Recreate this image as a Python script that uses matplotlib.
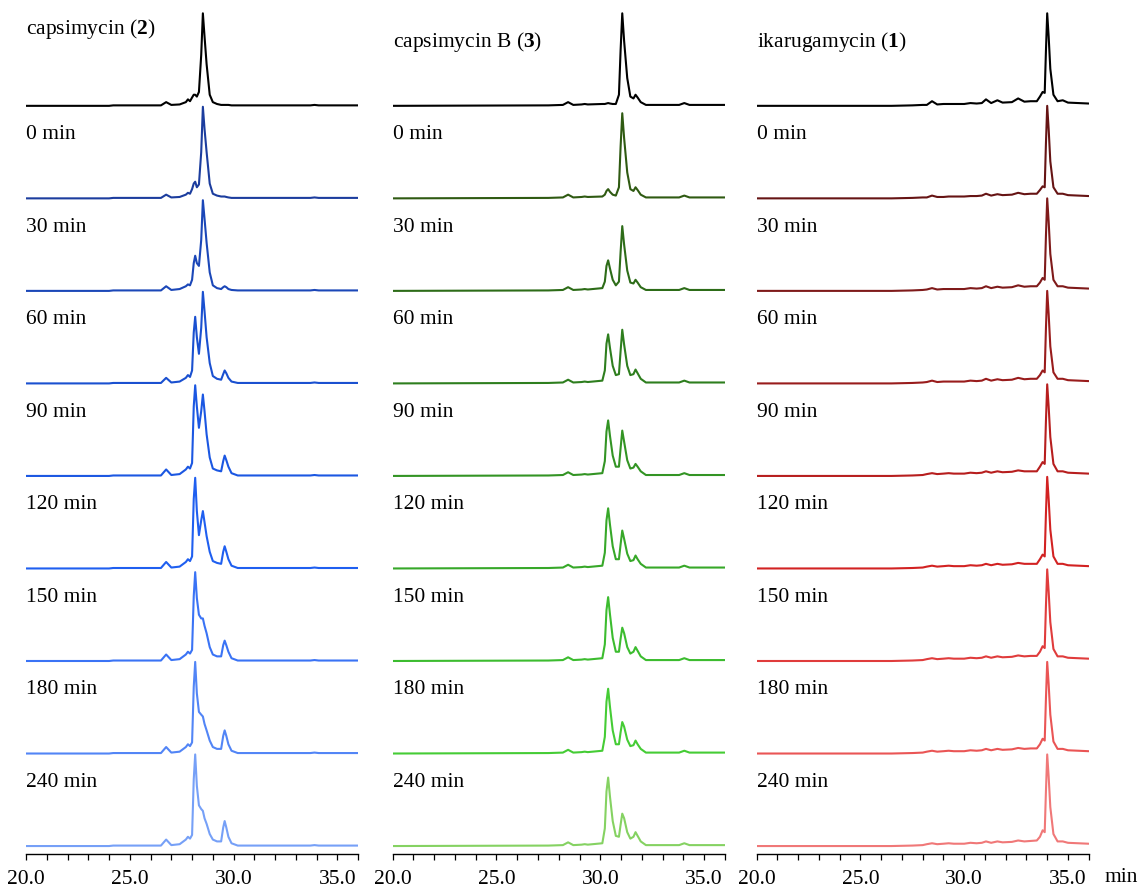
import matplotlib.pyplot as plt
from matplotlib.ticker import MultipleLocator

plt.rcParams['font.family'] = 'Liberation Serif'
plt.rcParams['mathtext.fontset'] = 'custom'
plt.rcParams['mathtext.rm'] = 'Liberation Serif'
plt.rcParams['mathtext.bf'] = 'Liberation Serif:bold'

# retention time grids (min) for each compound
t_capsimycin = [20.0, 24.0, 24.2, 26.5, 26.75, 27.0, 27.4, 27.7, 27.8, 27.9, 28.0, 28.08, 28.15,
                28.23, 28.33, 28.44, 28.52, 28.6, 28.7, 28.85, 29.0, 29.2, 29.4, 29.5, 29.57,
                29.65, 29.75, 29.9, 30.2, 33.7, 33.9, 34.1, 36.0]
t_capsimycin_b = [20.0, 27.5, 28.2, 28.45, 28.7, 29.1, 29.25, 29.4, 30.1, 30.22, 30.3, 30.38,
                  30.47, 30.6, 30.75, 30.9, 30.98, 31.06, 31.15, 31.3, 31.45, 31.6, 31.7, 31.8,
                  31.95, 32.2, 33.8, 34.05, 34.3, 36.0]
t_ikarugamycin = [20.0, 26.5, 27.5, 28.0, 28.2, 28.45, 28.7, 29.0, 29.25, 29.5, 30.0, 30.3, 30.6,
                  30.85, 31.05, 31.3, 31.6, 31.85, 32.3, 32.6, 32.9, 33.2, 33.5, 33.65, 33.78, 33.88,
                  33.94, 34.0, 34.07, 34.15, 34.3, 34.5, 34.75, 35.0, 36.0]

trace_labels = ['0 min', '30 min', '60 min', '90 min', '120 min', '150 min', '180 min', '240 min']

# capsimycin (2): standard then reaction time points
caps_std = [0, 0, .005, .005, .04, .01, .015, .04, .07, .05, .09, .12, .12, .1, .15, .55, 1.0,
            .75, .45, .12, .04, .02, .01, .01, .01, .01, .01, .005, .005, .005, .01, .005, .005]
caps_0 = [0, 0, .005, .005, .04, .01, .015, .04, .06, .05, .1, .16, .18, .12, .15, .5, .99,
          .75, .5, .16, .05, .03, .02, .02, .02, .015, .01, .005, .005, .005, .01, .005, .005]
caps_30 = [0, 0, .005, .005, .05, .01, .02, .05, .07, .06, .12, .3, .38, .3, .27, .55, .98,
           .78, .52, .2, .06, .03, .02, .04, .05, .04, .02, .01, .005, .005, .01, .005, .005]
caps_60 = [0, 0, .005, .005, .06, .01, .02, .06, .09, .07, .14, .55, .72, .5, .32, .6, .99,
           .78, .5, .22, .08, .05, .04, .1, .14, .11, .06, .02, .005, .005, .01, .005, .005]
caps_90 = [0, 0, .005, .005, .07, .01, .02, .07, .1, .08, .14, .75, .98, .75, .52, .7, .88,
           .7, .45, .2, .08, .06, .05, .16, .22, .17, .1, .03, .005, .005, .01, .005, .005]
caps_120 = [0, 0, .005, .005, .07, .01, .02, .07, .1, .08, .13, .75, .98, .62, .36, .52, .62,
            .5, .35, .18, .08, .06, .05, .18, .24, .18, .1, .03, .005, .005, .01, .005, .005]
caps_150 = [0, 0, .005, .005, .07, .01, .02, .07, .1, .08, .12, .7, .96, .68, .5, .46, .46,
            .38, .3, .15, .07, .05, .05, .17, .22, .17, .1, .03, .005, .005, .01, .005, .005]
caps_180 = [0, 0, .005, .005, .07, .01, .02, .07, .1, .08, .12, .72, .99, .65, .45, .42, .4,
            .32, .25, .14, .07, .05, .05, .19, .25, .19, .1, .03, .005, .005, .01, .005, .005]
caps_240 = [0, 0, .005, .005, .07, .01, .02, .07, .1, .08, .12, .72, .99, .65, .44, .4, .38,
            .3, .24, .13, .07, .05, .05, .2, .27, .2, .1, .03, .005, .005, .01, .005, .005]

# capsimycin B (3)
capb_std = [0, .005, .01, .04, .01, .015, .02, .015, .02, .02, .025, .03, .025, .02, .02, .12,
            .6, 1.0, .7, .3, .1, .08, .12, .09, .04, .01, .01, .03, .01, .01]
capb_0 = [0, .005, .01, .04, .01, .015, .02, .015, .02, .04, .08, .1, .07, .04, .03, .12,
          .56, .92, .65, .28, .1, .08, .12, .09, .04, .01, .01, .03, .01, .01]
capb_30 = [0, .005, .01, .04, .01, .015, .02, .015, .03, .1, .27, .33, .24, .12, .06, .1,
           .42, .70, .5, .22, .09, .08, .12, .09, .04, .01, .01, .03, .01, .01]
capb_60 = [0, .005, .01, .04, .01, .015, .02, .015, .03, .14, .43, .53, .38, .19, .09, .1,
           .35, .58, .42, .19, .09, .1, .15, .11, .05, .01, .01, .03, .01, .01]
capb_90 = [0, .005, .01, .04, .01, .015, .02, .015, .03, .16, .48, .60, .43, .22, .1, .1,
           .3, .49, .37, .17, .08, .09, .13, .1, .05, .01, .01, .03, .01, .01]
capb_120 = [0, .005, .01, .04, .01, .015, .02, .015, .03, .17, .52, .65, .47, .24, .1, .1,
            .26, .41, .32, .16, .08, .09, .14, .1, .05, .01, .01, .03, .01, .01]
capb_150 = [0, .005, .01, .04, .01, .015, .02, .015, .03, .18, .55, .69, .5, .25, .1, .1,
            .24, .36, .3, .15, .08, .1, .15, .11, .05, .01, .01, .03, .01, .01]
capb_180 = [0, .005, .01, .04, .01, .015, .02, .015, .03, .18, .56, .70, .5, .25, .1, .1,
            .23, .34, .29, .15, .08, .09, .14, .1, .05, .01, .01, .03, .01, .01]
capb_240 = [0, .005, .01, .04, .01, .015, .02, .015, .03, .19, .59, .74, .53, .27, .11, .1,
            .23, .35, .3, .15, .08, .1, .15, .11, .05, .01, .01, .03, .01, .01]

# ikarugamycin (1)
ika_std = [0, 0, .005, .01, .01, .05, .015, .02, .02, .02, .02, .03, .025, .03, .07, .03, .06, .035,
           .04, .08, .045, .05, .05, .1, .15, .14, .6, 1.0, .75, .4, .12, .05, .06, .035, .025]
ika_0 = [0, 0, .005, .01, .01, .03, .015, .015, .02, .02, .02, .025, .025, .03, .05, .03, .045, .035,
         .04, .06, .045, .05, .05, .09, .13, .12, .6, 1.0, .75, .4, .12, .05, .05, .035, .025]
ika_30 = [0, 0, .005, .01, .015, .03, .015, .02, .02, .02, .02, .03, .025, .03, .05, .03, .045, .035,
          .04, .06, .045, .05, .05, .09, .14, .12, .6, 1.0, .75, .4, .12, .05, .05, .035, .025]
ika_60 = [0, 0, .005, .01, .015, .03, .015, .02, .02, .02, .02, .03, .025, .03, .05, .03, .045, .035,
          .04, .06, .045, .05, .05, .09, .14, .12, .6, 1.0, .75, .4, .12, .05, .05, .035, .025]
ika_90 = [0, 0, .005, .01, .02, .03, .02, .025, .03, .025, .025, .035, .03, .035, .05, .035, .05, .04,
          .045, .06, .05, .05, .05, .1, .15, .13, .6, .99, .75, .42, .13, .05, .05, .035, .025]
ika_120 = [0, 0, .005, .01, .02, .03, .02, .025, .03, .025, .025, .035, .03, .035, .05, .035, .05, .04,
           .045, .06, .05, .05, .05, .1, .15, .13, .6, .99, .75, .42, .13, .05, .05, .035, .025]
ika_150 = [0, 0, .005, .01, .02, .03, .02, .025, .03, .025, .025, .035, .03, .035, .05, .035, .05, .04,
           .045, .06, .05, .055, .055, .1, .16, .14, .6, .99, .75, .42, .13, .05, .05, .035, .025]
ika_180 = [0, 0, .005, .01, .02, .03, .02, .025, .03, .025, .025, .035, .03, .035, .05, .035, .05, .04,
           .045, .06, .05, .055, .055, .1, .16, .14, .6, .99, .75, .42, .13, .05, .05, .035, .025]
ika_240 = [0, 0, .005, .01, .02, .03, .02, .025, .03, .025, .025, .035, .03, .035, .05, .035, .05, .04,
           .045, .06, .05, .055, .06, .1, .17, .15, .6, .99, .75, .42, .13, .05, .05, .035, .025]

panels = [
    ('capsimycin ($\\mathbf{2}$)', t_capsimycin,
     [caps_std, caps_0, caps_30, caps_60, caps_90, caps_120, caps_150, caps_180, caps_240],
     ['#000000', '#1c3d9e', '#1b47b8', '#1a50d0', '#1b57e2', '#1f5ff0', '#3a73f5', '#5285f6', '#76a0f7']),
    ('capsimycin B ($\\mathbf{3}$)', t_capsimycin_b,
     [capb_std, capb_0, capb_30, capb_60, capb_90, capb_120, capb_150, capb_180, capb_240],
     ['#000000', '#2f5a12', '#2d6c18', '#2e7e1e', '#339424', '#37a829', '#3cbc2f', '#45cc35', '#85d262']),
    ('ikarugamycin ($\\mathbf{1}$)', t_ikarugamycin,
     [ika_std, ika_0, ika_30, ika_60, ika_90, ika_120, ika_150, ika_180, ika_240],
     ['#000000', '#661414', '#7f1a1a', '#991c1c', '#b71e1e', '#d22222', '#e03c3c', '#ea5555', '#f07878']),
]

fig = plt.figure(figsize=(11.43, 8.9), dpi=100)
lefts = [0.0228, 0.3436, 0.662]
n = 9

for (title, t, traces, colors), left in zip(panels, lefts):
    ax = fig.add_axes([left, 0.0404, 0.2905, 0.954])
    for i, (y, c) in enumerate(zip(traces, colors)):
        off = n - 1 - i
        ax.plot(t, [v + off for v in y], color=c, lw=1.5,
                solid_joinstyle='round', solid_capstyle='round')
        label = title if i == 0 else trace_labels[i - 1]
        ty = off + (0.83 if (i == 0 and left < 0.1) else 0.69)
        ax.text(20.0, ty, label, fontsize=15.5, va='center', ha='left')
    ax.set_xlim(20, 36)
    ax.set_ylim(-0.0865, 9.09)
    for s in ['top', 'left', 'right']:
        ax.spines[s].set_visible(False)
    ax.spines['bottom'].set_linewidth(1.0)
    ax.set_yticks([])
    ax.set_xticks([20, 25, 30, 35])
    ax.set_xticklabels(['20.0', '25.0', '30.0', '35.0'])
    ax.xaxis.set_minor_locator(MultipleLocator(1))
    ax.tick_params(axis='x', which='both', direction='out', length=4.3, width=0.9,
                   labelsize=15.5, pad=7)

fig.text(0.981, 0.0135, 'min', fontsize=15.5, ha='center', va='center')

fig.savefig('out.png', dpi=100)
